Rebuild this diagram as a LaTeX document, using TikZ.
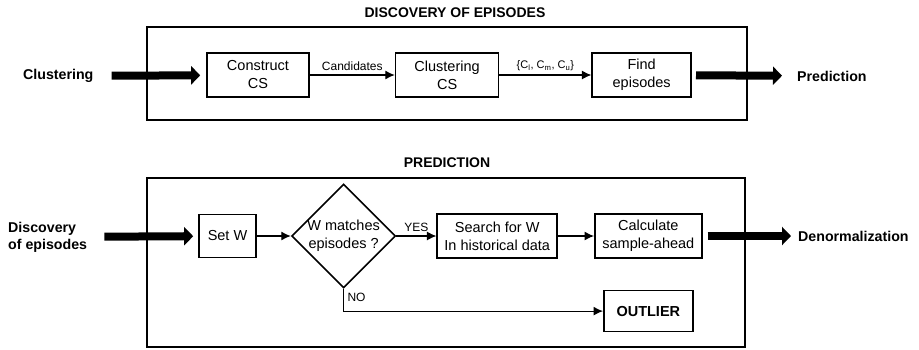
\documentclass[tikz,border=0pt]{standalone}
\usepackage{fontspec}
\setmainfont{Liberation Sans}
\usetikzlibrary{positioning,arrows.meta,shapes.geometric}
\tikzset{
	>={Latex[length=9.5pt,width=9pt]}, % heads of the thin arrows
	box/.style={draw, line width=1.6pt, minimum height=44pt, inner sep=2pt, align=center, font=\fontsize{14.5}{18}\selectfont}, % a step inside a block
	decision/.style={diamond, draw, aspect=1, line width=1.6pt, inner sep=0pt, minimum width=103pt, minimum height=102pt, align=center, font=\fontsize{14.5}{18}\selectfont}, % the test
	frame/.style={line width=2.6pt}, % the two outer blocks
	title/.style={font=\fontsize{14}{17}\selectfont\bfseries}, % name of a block
	side/.style={font=\fontsize{14.2}{17}\selectfont\bfseries, inner sep=0pt, align=left}, % blocks before and after
	flow/.style={->, line width=1.2pt}, % thin arrows between steps
	fat/.style={-{Triangle[length=9pt,width=18pt]}, line width=8pt}, % thick arrows in and out
	tag/.style={font=\fontsize{12}{14}\selectfont}, % text on a thin arrow
}
\begin{document}
\begin{tikzpicture}[x=1pt,y=-1pt]
	\useasboundingbox (0,0) rectangle (919,349);

	% discovery of episodes
	\draw[frame] (147,27) rectangle (747,120);
	\node[title] (t1) at (455,13) {DISCOVERY OF EPISODES};
	\node[box,minimum width=102pt] (cs) at (258,75) {Construct\\CS};
	\node[box,minimum width=103pt,right=85pt of cs] (clcs) {Clustering\\CS};
	\node[box,minimum width=99pt,right=92pt of clcs] (find) {Find\\episodes};
	\node[side,anchor=west] (clus) at (23,76) {Clustering};
	\node[side,anchor=west] (pred) at (797,76) {Prediction};

	\draw[flow] (cs) -- node[tag,above]{Candidates} (clcs);
	\draw[flow] (clcs) -- node[tag,above,font=\fontsize{11}{13}\selectfont]{\{C\textsubscript{l}, C\textsubscript{m}, C\textsubscript{u}\}} (find);
	\draw[fat,shorten <=18pt,shorten >=6pt] (clus) -- (cs);
	\draw[fat,shorten <=4pt,shorten >=15pt] (find) -- (pred);

	% prediction
	\draw[frame] (147,178) rectangle (745,347);
	\node[title] (t2) at (447,163) {PREDICTION};
	\node[box,minimum width=57pt,minimum height=43pt] (setw) at (227.5,236) {Set W};
	\node[decision,right=34pt of setw] (match) {W matches\\episodes ?};
	\node[box,minimum width=120pt,right=40pt of match] (search) {Search for W\\In historical data};
	\node[box,minimum width=107pt,right=36pt of search] (calc) {Calculate\\sample-ahead};
	\node[box,minimum width=89pt,minimum height=41pt,below=31pt of calc,font=\fontsize{14.5}{18}\selectfont\bfseries] (outlier) {OUTLIER};
	\node[side,anchor=west] (disc) at (8,237) {Discovery\\of episodes};
	\node[side,anchor=west] (denorm) at (798,236) {Denormalization};

	\draw[flow] (setw) -- (match);
	\draw[flow] (match) -- node[tag,above]{YES} (search);
	\draw[flow] (search) -- (calc);
	\draw[flow] (match.south) |- node[tag,right,pos=0.2]{NO} (outlier);
	\draw[fat,shorten <=17pt,shorten >=5pt] (disc) -- (setw);
	\draw[fat,shorten <=5pt,shorten >=7pt] (calc) -- (denorm);
\end{tikzpicture}
\end{document}
